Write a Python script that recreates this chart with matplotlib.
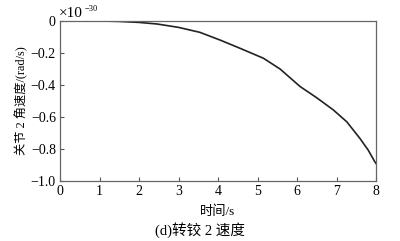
import matplotlib.pyplot as plt

# joint 2 angular velocity (scaled by 1e-30)
t = [0, 1.0, 1.5, 2.0, 2.46, 3.0, 3.54, 4.05, 4.56, 5.15, 5.57, 6.08, 6.50, 6.92, 7.26, 7.59, 7.80, 7.97, 8.0]
w = [0, 0, -0.003, -0.009, -0.019, -0.04, -0.071, -0.119, -0.171, -0.233, -0.30, -0.41, -0.48, -0.556, -0.63, -0.733, -0.806, -0.88, -0.89]

xticks = [0, 1, 2, 3, 4, 5, 6, 7, 8]
yticks = [0, -0.2, -0.4, -0.6, -0.8, -1.0]
ytick_labels = ['0', '−0.2', '−0.4', '−0.6', '−0.8', '−1.0']

FONT = ['Liberation Serif', 'Noto Sans CJK SC']
plt.rcParams['font.family'] = FONT

fig = plt.figure(figsize=(4.0, 2.41), dpi=100)
ax = fig.add_axes([0.15, 0.249, 0.79, 0.664])

ax.plot(t, w, color='#222222', linewidth=1.2)

ax.set_xlim(0, 8)
ax.set_ylim(-1.0, 0)
ax.set_xticks(xticks)
ax.set_yticks(yticks)
ax.set_yticklabels(ytick_labels)
ax.tick_params(direction='in', length=3, labelsize=10, color='#555555', pad=3)
for s in ax.spines.values():
    s.set_color('#666666')
    s.set_linewidth(0.9)

ax.set_xlabel('时间/s', fontsize=9.5, labelpad=5)
ax.set_ylabel('关节 2 角速度/(rad/s)', fontsize=8.8, labelpad=2)

# offset multiplier drawn by hand, like the original
fig.text(0.148, 0.946, '×10', fontsize=11, ha='left', va='center')
fig.text(0.212, 0.962, '−30', fontsize=6, ha='left', va='center')
fig.text(0.5, 0.012, '(d)转铰 2 速度', fontsize=10.5, ha='center', va='bottom')

plt.savefig('out.png', dpi=100)
